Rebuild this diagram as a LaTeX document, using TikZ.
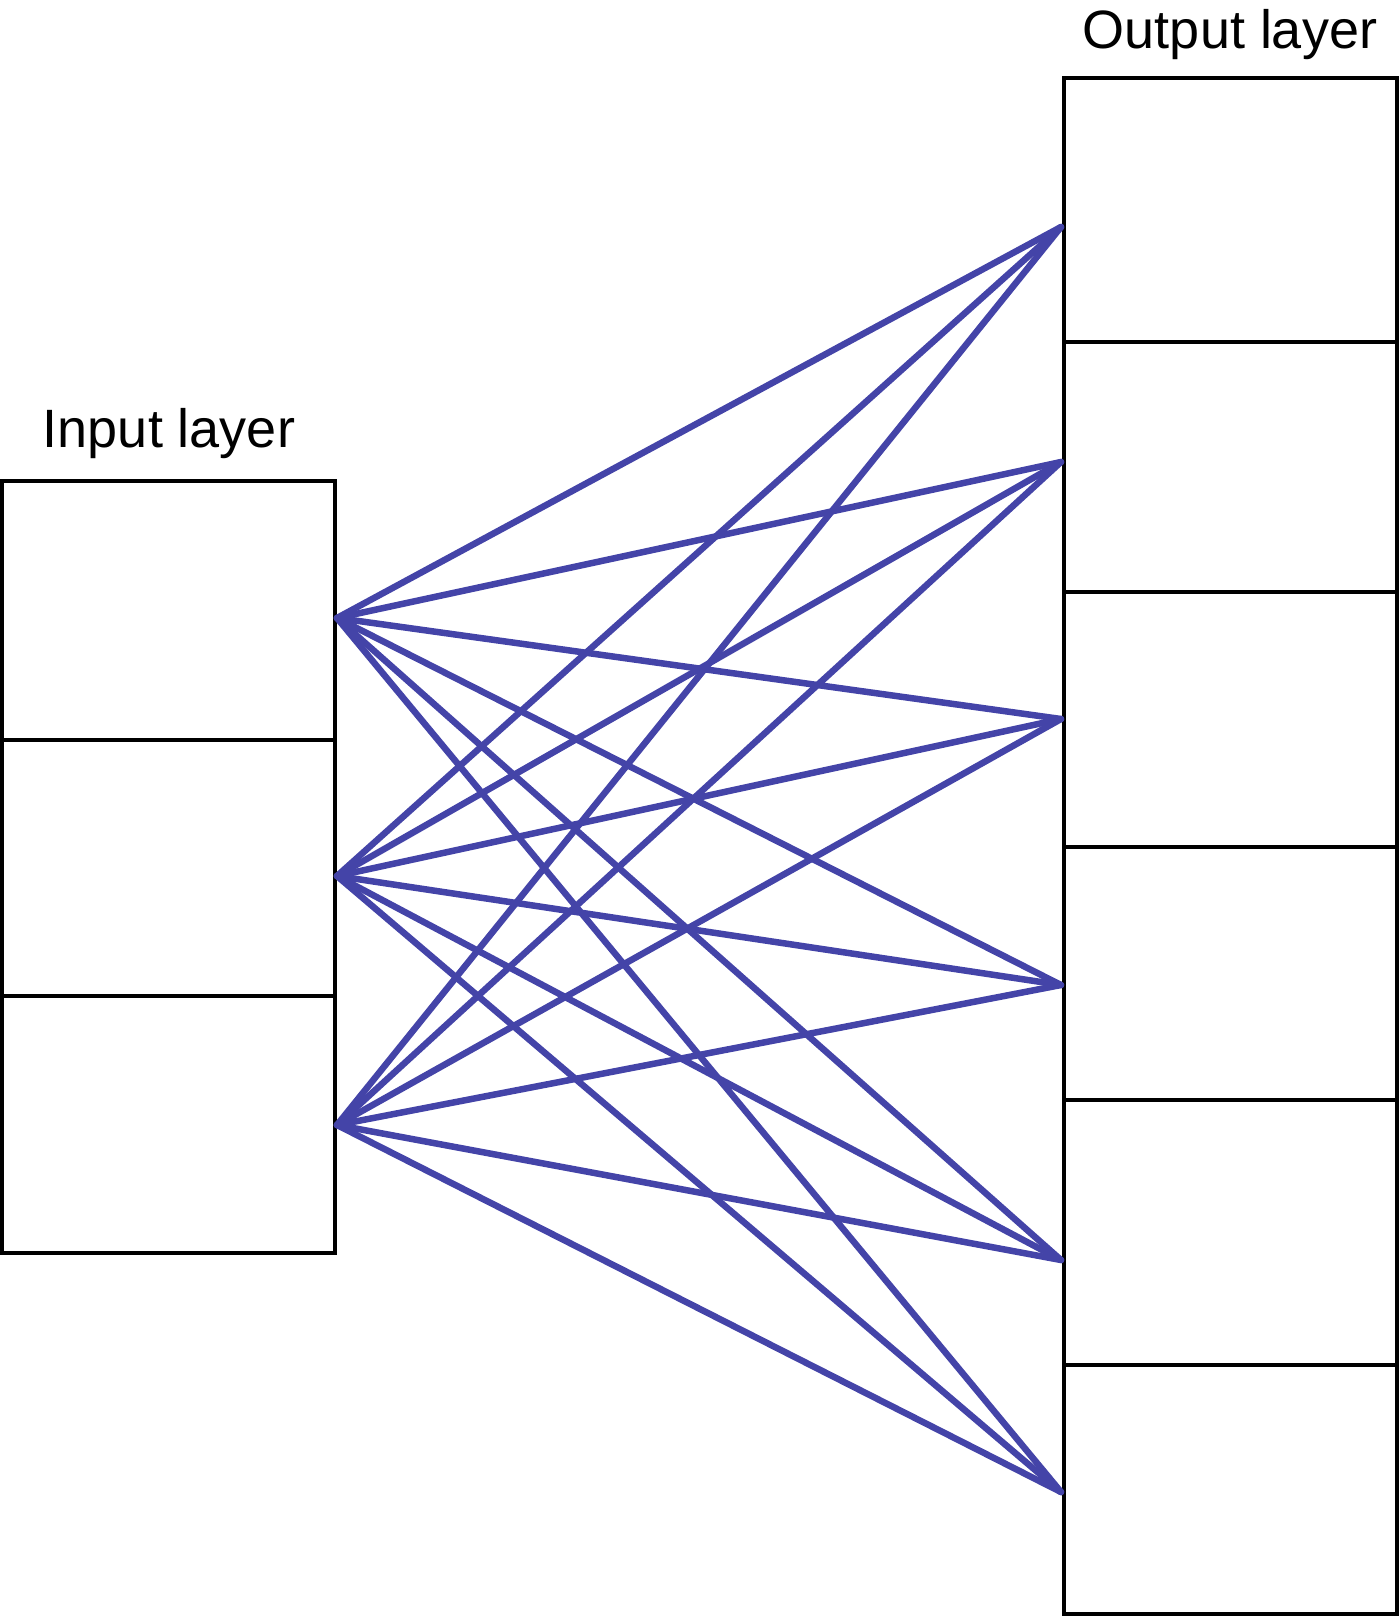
\documentclass[tikz,border=0pt]{standalone}
\usepackage{fontspec}
\setmainfont{Liberation Sans}
\usetikzlibrary{positioning}
\definecolor{Wire}{HTML}{4444A8}
\tikzset{cell/.style={draw=black,line width=4pt,inner sep=0pt,minimum width=333pt},
  link/.style={draw=Wire,line width=6.5pt,line cap=round},
  layerlabel/.style={anchor=base,inner sep=0pt,font=\fontsize{54}{60}\selectfont}}
\begin{document}
\begin{tikzpicture}[x=1pt,y=-1pt]
    \useasboundingbox (0,0) rectangle (1399,1617);
    % input layer
    \node[cell,minimum height=259pt] (in1) at (168.5,610.5) {};
    \node[cell,minimum height=256pt] (in2) at (168.5,868) {};
    \node[cell,minimum height=257pt] (in3) at (168.5,1124.5) {};
    \node[layerlabel] (inlabel) at (169,447) {Input layer};
    % output layer
    \node[cell,minimum height=264pt] (out1) at (1230.5,210) {};
    \node[cell,minimum height=250pt] (out2) at (1230.5,467) {};
    \node[cell,minimum height=255pt] (out3) at (1230.5,719.5) {};
    \node[cell,minimum height=253pt] (out4) at (1230.5,973.5) {};
    \node[cell,minimum height=265pt] (out5) at (1230.5,1232.5) {};
    \node[cell,minimum height=249pt] (out6) at (1230.5,1489.5) {};
    \node[layerlabel] (outlabel) at (1230,48) {Output layer};
    % connection points
    \coordinate (a1) at (337,618);
    \coordinate (a2) at (337,876);
    \coordinate (a3) at (337,1125);
    \coordinate (b1) at (1061,227);
    \coordinate (b2) at (1061,462);
    \coordinate (b3) at (1061,719);
    \coordinate (b4) at (1061,985);
    \coordinate (b5) at (1061,1260);
    \coordinate (b6) at (1061,1492);
    \foreach \i in {1,2,3}
      \foreach \j in {1,...,6}
        \draw[link] (a\i) -- (b\j);
  \end{tikzpicture}
\end{document}
